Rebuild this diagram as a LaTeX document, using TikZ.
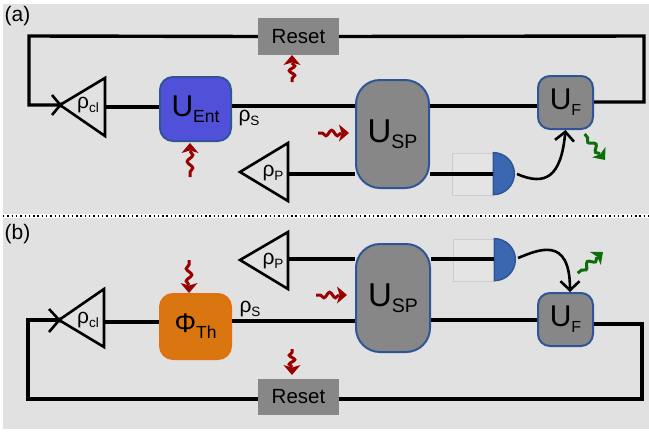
\documentclass[tikz,border=0pt]{standalone}
\usepackage{fontspec}
\setmainfont{Liberation Sans}
\usetikzlibrary{arrows.meta,decorations.pathmorphing,calc}
\definecolor{bgg}{HTML}{E1E1E1}
\definecolor{boxg}{HTML}{878787}
\definecolor{bordb}{HTML}{2F5597}
\definecolor{entb}{HTML}{5050D8}
\definecolor{orng}{HTML}{D9760F}
\definecolor{orngb}{HTML}{E07010}
\definecolor{detb}{HTML}{3B66B0}
\definecolor{wred}{HTML}{990000}
\definecolor{wgrn}{HTML}{0B6E0B}
\newcommand{\lab}[5]{{\fontsize{#3}{#3}\selectfont #1}{\fontsize{#4}{#4}\selectfont\raisebox{#5}{#2}}}
% colour, tip x, tip y, direction angle (counter-clockwise on the page), total length
\newcommand{\wiggle}[5]{%
 \begin{scope}[shift={(#2,#3)},rotate=#4]
  \fill[#1,line join=round] (0,0) -- (-10,-8.5) -- (-7.5,0) -- (-10,8.5) -- cycle;
  \draw[#1,line width=3pt,decorate,decoration={snake,amplitude=2.8pt,segment length={(#5-8)/2*1pt}}] (-8,0) -- (-#5,0);
 \end{scope}}
\tikzset{
 x=1pt,y=-1pt,
 wire/.style={line width=3.4pt,black},
 fatwire/.style={line width=4.4pt,black},
 tri/.style={line width=2.6pt,black,line join=miter},
 gate/.style={draw=bordb,line width=2pt,rounded corners=#1,inner sep=0pt,fill=boxg,text=black},
 gate/.default=12pt,
 resetbox/.style={fill=boxg,inner sep=0pt,minimum width=81pt,text=black,font=\fontsize{20.5}{20.5}\selectfont},
 txt/.style={inner sep=0pt,text=black},
 hook/.style={line width=2.6pt,black,-{Straight Barb[length=9pt,width=19pt,line width=2.6pt]}},
 detbox/.style={draw=black!20,line width=.7pt,fill=bgg!90!white},
 detd/.style={draw=bordb,line width=1.5pt,fill=detb},
}
\begin{document}
\begin{tikzpicture}
\useasboundingbox (0,0) rectangle (649,432);
\fill[white] (0,0) rectangle (649,432);
\fill[bgg] (3,4) rectangle (649,213.5);
\fill[bgg] (3,217.5) rectangle (649,429);
\draw[line width=1.4pt,black,dash pattern=on 1.4pt off 2.9pt] (3,216) -- (649,216);
\node[txt,font=\fontsize{21}{21}\selectfont] (la) at (17.5,16) {(a)};
\node[txt,font=\fontsize{21}{21}\selectfont] (lb) at (17.5,234) {(b)};

% ---------- panel (a)
\node[resetbox,minimum height=37pt] (ra) at (298.5,36.5) {Reset};
\node[gate=13pt,fill=entb,minimum width=71pt,minimum height=64pt] (ent) at (195.5,109) {\lab{U}{Ent}{30}{17.5}{-6pt}};
\node[gate=24pt,minimum width=73pt,minimum height=108pt] (spa) at (392.5,134) {\lab{U}{SP}{33}{19.5}{-6.5pt}};
\node[gate=12pt,minimum width=55pt,minimum height=53pt] (fa) at (565.5,102.5) {\lab{U}{F}{30}{16}{-6pt}};
\coordinate (cla) at (105,107);
\coordinate (clat) at (105,78);
\coordinate (clab) at (105,136);
\coordinate (clap) at (60,105);
\coordinate (pa) at (288,174);
\coordinate (pat) at (288,143);
\coordinate (pab) at (288,201);
\coordinate (pap) at (240,172);
\coordinate (tla) at (29,36);
\coordinate (bla) at (29,105);
\coordinate (tra) at (644,36);
\coordinate (bra) at (644,102);
\node[txt] (rhocla) at (88,105) {\lab{ρ}{cl}{21}{13.5}{-4pt}};
\node[txt] (rhopa) at (273,173) {\lab{ρ}{P}{21}{13.5}{-4pt}};
\node[txt] (rhosa) at (249,118) {\lab{ρ}{S}{21}{13.5}{-4pt}};
\draw[wire,line join=miter] (ra.west) -- (tla) -- (bla) -- (clap);
\draw[wire,line join=miter] (ra.east) -- (tra) -- (bra) -- (fa.east |- bra);
\draw[wire] (cla) -- (ent.west |- cla);
\draw[wire] (ent.east |- 0,106) -- (spa.west |- 0,106);
\draw[wire] (spa.east |- 0,106) -- (fa.west |- 0,106);
\draw[tri] (clat) -- (clab) -- (clap) -- cycle;
\draw[tri,line cap=butt] (52,95) -- (62,107);
\draw[tri,line cap=butt] (52,115) -- (62,103);
\draw[tri] (pat) -- (pab) -- (pap) -- cycle;
\node[draw,detbox,minimum width=41pt,minimum height=42pt,inner sep=0pt] (dba) at (472.5,174) {};
\draw[detd] (dba.north east) arc[start angle=90,end angle=-90,radius=21pt] -- cycle;
\coordinate (doa) at (517,174);
\draw[fatwire] (pa) -- (spa.west |- pa);
\draw[fatwire] (spa.east |- pa) -- (dba.east |- pa);
\draw[hook] (doa) .. controls (545,186) and (561,178) .. (fa.south);
\wiggle{wred}{292}{55}{90}{27}
\wiggle{wred}{190}{143}{90}{34}
\wiggle{wred}{349}{133}{0}{31}
\wiggle{wgrn}{605}{160}{-52}{33}

% ---------- panel (b)
\node[resetbox,minimum height=36pt] (rb) at (298.5,397) {Reset};
\node[gate=13pt,fill=orng,draw=orngb,minimum width=71pt,minimum height=65pt] (th) at (195.5,326.5) {\lab{Φ}{Th}{27}{17.5}{-6pt}};
\node[gate=24pt,minimum width=74pt,minimum height=108pt] (spb) at (393,298) {\lab{U}{SP}{33}{19.5}{-6.5pt}};
\node[gate=12pt,minimum width=55pt,minimum height=53pt] (fb) at (565.5,319.5) {\lab{U}{F}{30}{16}{-6pt}};
\coordinate (clb) at (104,322);
\coordinate (clbt) at (104,289);
\coordinate (clbb) at (104,347);
\coordinate (clbp) at (59,320);
\coordinate (pb) at (288,259);
\coordinate (pbt) at (288,232);
\coordinate (pbb) at (288,289);
\coordinate (pbp) at (240,260);
\coordinate (blb) at (28,399);
\coordinate (tlb) at (28,320);
\coordinate (brb) at (642,399);
\coordinate (trb) at (642,324);
\node[txt] (rhoclb) at (88,320) {\lab{ρ}{cl}{21}{13.5}{-4pt}};
\node[txt] (rhopb) at (273,261) {\lab{ρ}{P}{21}{13.5}{-4pt}};
\node[txt] (rhosb) at (250,309) {\lab{ρ}{S}{21}{13.5}{-4pt}};
\draw[wire,line join=miter] (rb.west |- blb) -- (blb) -- (tlb) -- (clbp);
\draw[wire,line join=miter] (rb.east |- brb) -- (brb) -- (trb) -- (fb.east |- trb);
\draw[wire] (clb) -- (th.west |- clb);
\draw[wire] (th.east |- 0,321) -- (spb.west |- 0,321);
\draw[wire] (spb.east |- 0,320) -- (fb.west |- 0,320);
\draw[tri] (clbt) -- (clbb) -- (clbp) -- cycle;
\draw[tri,line cap=butt] (49,309) -- (61,322);
\draw[tri,line cap=butt] (49,332) -- (61,318);
\draw[tri] (pbt) -- (pbb) -- (pbp) -- cycle;
\node[draw,detbox,minimum width=41pt,minimum height=42pt,inner sep=0pt] (dbb) at (473.5,260) {};
\draw[detd] (dbb.north east) arc[start angle=90,end angle=-90,radius=21pt] -- cycle;
\coordinate (dob) at (518,258);
\draw[fatwire] (pb) -- (spb.west |- pb);
\draw[fatwire] (spb.east |- pb) -- (dbb.east |- pb);
\draw[hook] (dob) .. controls (538,250) and (570,235) .. (570,292);
\wiggle{wred}{189}{293}{-90}{33}
\wiggle{wred}{292}{375}{-90}{26}
\wiggle{wred}{347}{295}{0}{31}
\wiggle{wgrn}{603}{252}{40}{33}
\end{tikzpicture}
\end{document}
